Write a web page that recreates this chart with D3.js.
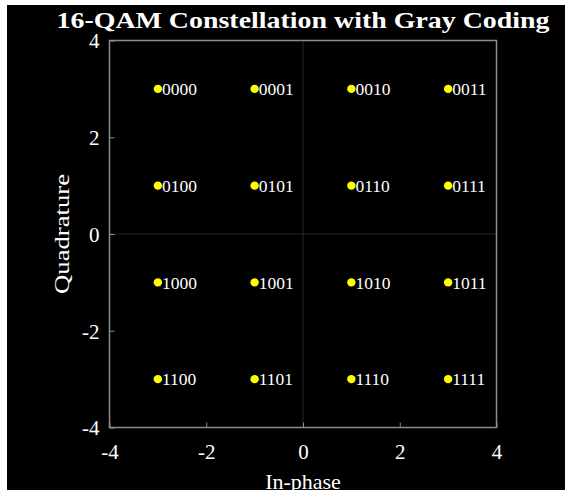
<!DOCTYPE html>
<html>
<head>
<meta charset="utf-8">
<script src="https://cdn.jsdelivr.net/npm/d3@7"></script>
<style>
  body { margin: 0; background: #fff; }
  text { font-family: "Liberation Serif", "DejaVu Serif", serif; }
</style>
</head>
<body>
<div id="chart"></div>
<script>
// constellation points (in-phase, quadrature) and their bit labels
var inPhase    = [-3, -1, 1, 3, -3, -1, 1, 3, -3, -1, 1, 3, -3, -1, 1, 3];
var quadrature = [3, 3, 3, 3, 1, 1, 1, 1, -1, -1, -1, -1, -3, -3, -3, -3];
var bitLabels  = ["0000", "0001", "0010", "0011",
                  "0100", "0101", "0110", "0111",
                  "1000", "1001", "1010", "1011",
                  "1100", "1101", "1110", "1111"];
var tickValues = [-4, -2, 0, 2, 4];

var w = 565, h = 490;
var pLeft = 109.5, pRight = 496.5, pTop = 40.5, pBottom = 427.5;

var svg = d3.select("#chart").append("svg")
    .attr("width", w)
    .attr("height", h);

// black figure background (small white margin at top / left)
svg.append("rect")
    .attr("x", 7).attr("y", 5)
    .attr("width", w - 7).attr("height", h - 5)
    .attr("fill", "#000");

var x = d3.scaleLinear().domain([-4, 4]).range([pLeft, pRight]);
var y = d3.scaleLinear().domain([-4, 4]).range([pBottom, pTop]);

// faint zero lines
svg.append("line")
    .attr("x1", x(0)).attr("x2", x(0))
    .attr("y1", pTop).attr("y2", pBottom)
    .attr("stroke", "#262626").attr("stroke-width", 1);
svg.append("line")
    .attr("x1", pLeft).attr("x2", pRight)
    .attr("y1", y(0)).attr("y2", y(0))
    .attr("stroke", "#262626").attr("stroke-width", 1);

// axes with inward ticks
var fmt = function(d) { return String(d); };
var xAxis = d3.axisBottom(x).tickValues(tickValues).tickSize(-5).tickPadding(12).tickFormat(fmt);
var yAxis = d3.axisLeft(y).tickValues(tickValues).tickSize(-5).tickPadding(10).tickFormat(fmt);

var gx = svg.append("g").attr("transform", "translate(0," + pBottom + ")").call(xAxis);
var gy = svg.append("g").attr("transform", "translate(" + pLeft + ",0)").call(yAxis);

[gx, gy].forEach(function(g) {
  g.attr("font-family", null).attr("font-size", null);
  g.select(".domain").remove();
  g.selectAll(".tick line").attr("stroke", "#8c8c8c");
  g.selectAll(".tick text")
    .attr("fill", "#fff")
    .style("font-family", "'Liberation Serif', 'DejaVu Serif', serif")
    .style("font-size", "21px");
});
gx.selectAll(".tick text").attr("dy", "0.95em");
gy.selectAll(".tick text").attr("dy", "0.35em");

// box
svg.append("rect")
    .attr("x", pLeft).attr("y", pTop)
    .attr("width", pRight - pLeft).attr("height", pBottom - pTop)
    .attr("fill", "none")
    .attr("stroke", "#8c8c8c")
    .attr("stroke-width", 1.5);

// points
var pts = d3.range(inPhase.length);

svg.selectAll(".pt")
    .data(pts)
    .enter()
    .append("circle")
    .attr("class", "pt")
    .attr("cx", function(i) { return x(inPhase[i]); })
    .attr("cy", function(i) { return y(quadrature[i]); })
    .attr("r", 4.2)
    .attr("fill", "#ffff00");

svg.selectAll(".lbl")
    .data(pts)
    .enter()
    .append("text")
    .attr("class", "lbl")
    .attr("x", function(i) { return x(inPhase[i]) + 4; })
    .attr("y", function(i) { return y(quadrature[i]); })
    .attr("dy", "0.35em")
    .attr("fill", "#fff")
    .style("font-size", "17.5px")
    .text(function(i) { return bitLabels[i]; });

// title
svg.append("text")
    .attr("x", (pLeft + pRight) / 2)
    .attr("y", 28)
    .attr("text-anchor", "middle")
    .attr("fill", "#fff")
    .attr("textLength", 493)
    .attr("lengthAdjust", "spacingAndGlyphs")
    .style("font-size", "23px")
    .style("font-weight", "bold")
    .text("16-QAM Constellation with Gray Coding");

// axis labels
svg.append("text")
    .attr("x", (pLeft + pRight) / 2)
    .attr("y", 489)
    .attr("text-anchor", "middle")
    .attr("fill", "#fff")
    .style("font-size", "22px")
    .text("In-phase");

svg.append("text")
    .attr("transform", "translate(69," + ((pTop + pBottom) / 2) + ") rotate(-90)")
    .attr("text-anchor", "middle")
    .attr("fill", "#fff")
    .attr("textLength", 120)
    .attr("lengthAdjust", "spacingAndGlyphs")
    .style("font-size", "22px")
    .text("Quadrature");
</script>
</body>
</html>
